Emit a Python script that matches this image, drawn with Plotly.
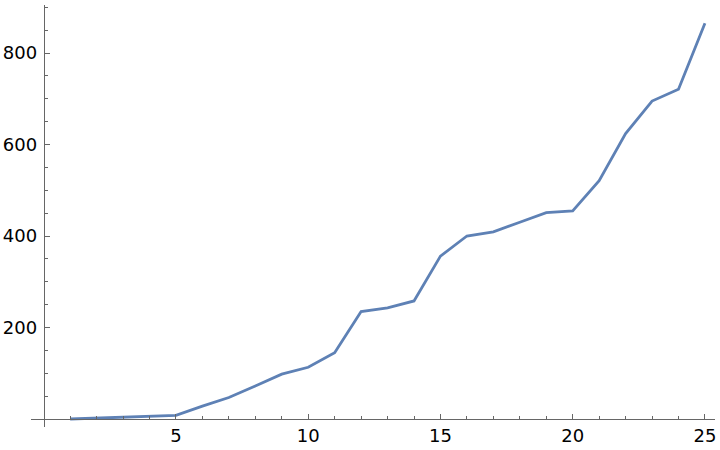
import plotly.graph_objects as go

x_vals = list(range(1, 26))
y_vals = [0, 2, 3, 5, 8, 28, 47, 72, 98, 113, 145, 235, 243, 258, 356,
          400, 409, 430, 451, 455, 521, 624, 695, 721, 865]

x_range = [-0.48, 25.38]
y_range = [-17.5, 905]

fig = go.Figure()
fig.add_trace(go.Scatter(x=x_vals, y=y_vals, mode="lines",
                         line=dict(color="#5E81B5", width=2.8)))

axis_color = "#666666"
font = dict(family="DejaVu Sans", size=18, color="#000000")

fig.update_layout(
    width=720, height=450,
    margin=dict(l=31, r=5, t=5, b=23, autoexpand=False),
    paper_bgcolor="white", plot_bgcolor="white",
    showlegend=False,
    xaxis=dict(
        range=x_range, anchor="free", automargin=False,
        position=(0 - y_range[0]) / (y_range[1] - y_range[0]),
        showgrid=False, zeroline=False,
        showline=True, linecolor=axis_color, linewidth=1,
        tickmode="array", tickvals=[5, 10, 15, 20, 25],
        ticks="inside", ticklen=5, tickcolor=axis_color, tickwidth=1,
        minor=dict(tickmode="array", tickvals=[i for i in range(1, 26) if i % 5],
                   ticks="inside", ticklen=3, tickcolor=axis_color, tickwidth=1,
                   showgrid=False),
        tickfont=font,
    ),
    yaxis=dict(
        range=y_range, anchor="free", automargin=False,
        position=(0 - x_range[0]) / (x_range[1] - x_range[0]),
        showgrid=False, zeroline=False,
        showline=True, linecolor=axis_color, linewidth=1,
        tickmode="array", tickvals=[200, 400, 600, 800],
        ticks="inside", ticklen=5, tickcolor=axis_color, tickwidth=1,
        ticklabelstandoff=3,
        minor=dict(tickmode="array", tickvals=[v for v in range(50, 901, 50) if v % 200],
                   ticks="inside", ticklen=3, tickcolor=axis_color, tickwidth=1,
                   showgrid=False),
        tickfont=font,
    ),
)

fig.write_html(
    "out.html",
    config={"displayModeBar": False},
    post_script="document.body.style.margin='0';document.documentElement.style.overflow='hidden';",
)
